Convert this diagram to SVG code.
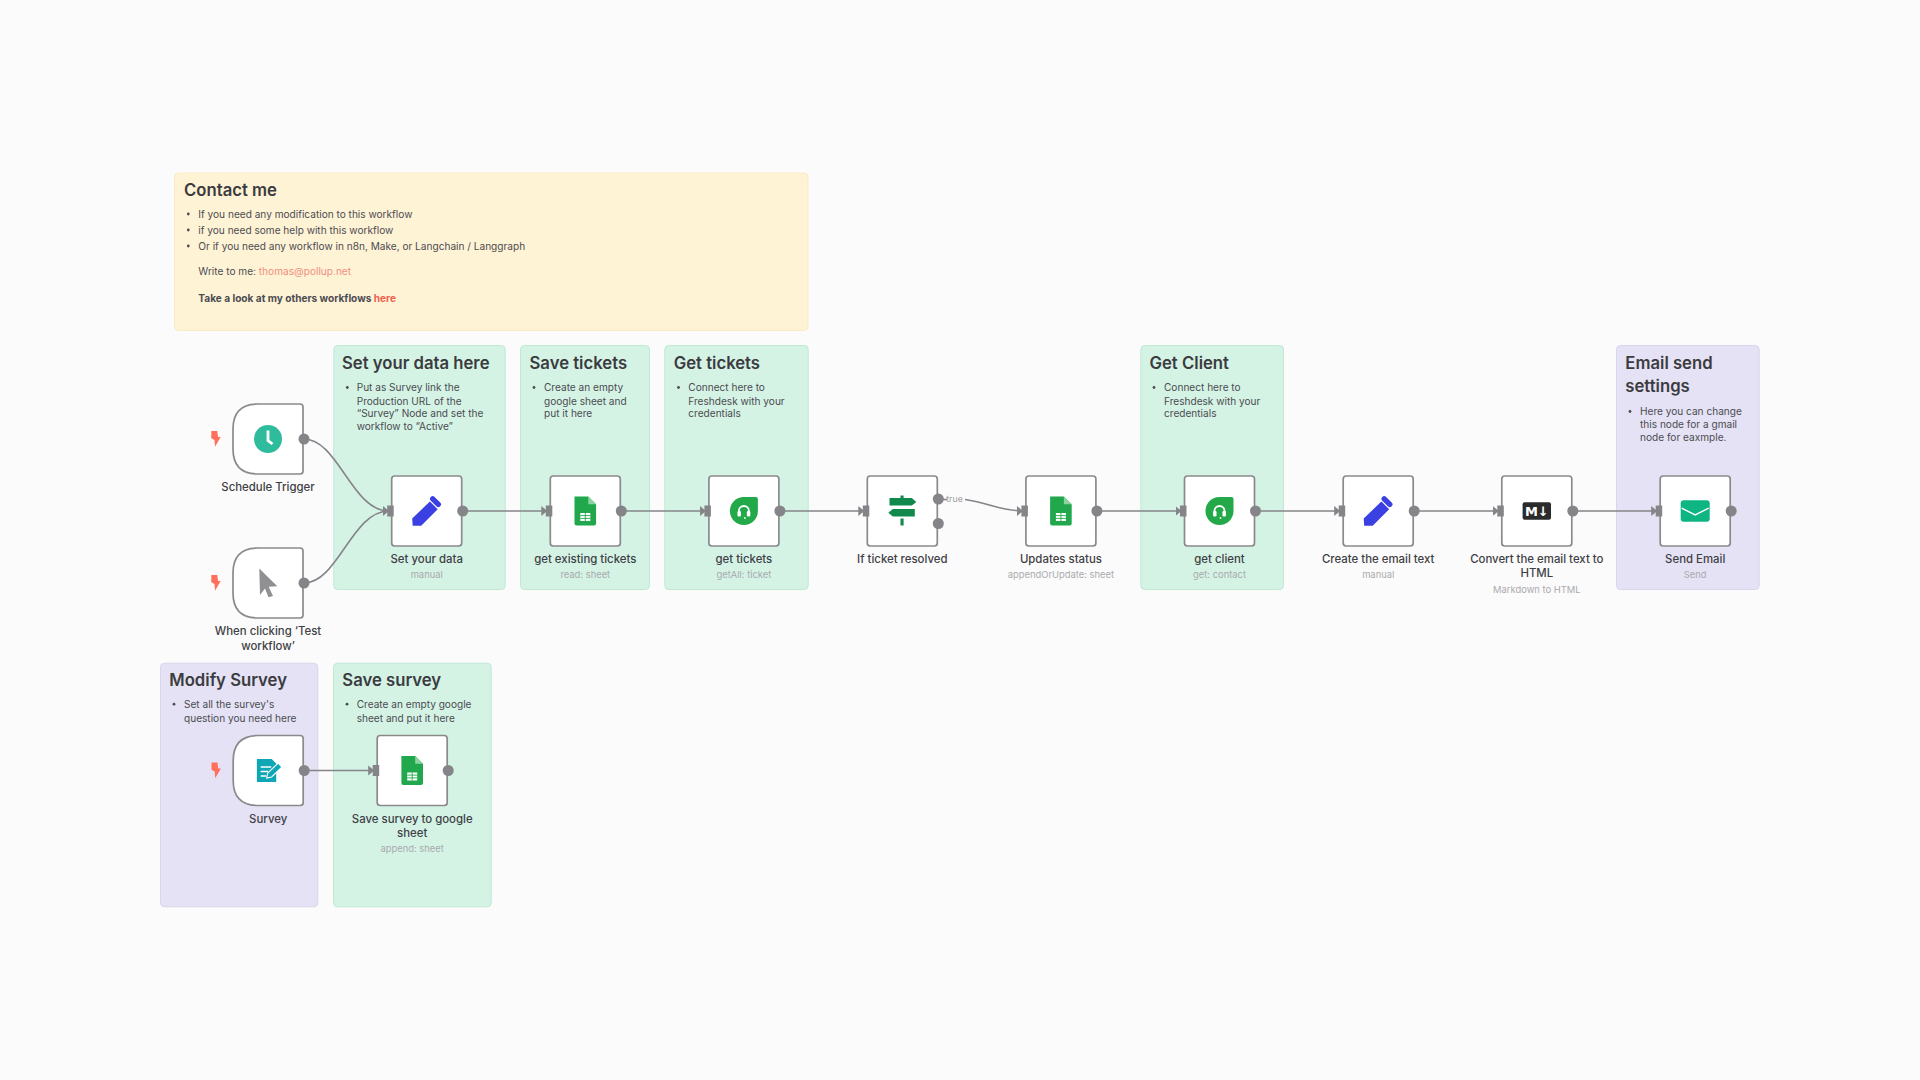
<svg xmlns="http://www.w3.org/2000/svg" width="1920" height="1080" viewBox="0 0 1920 1080">
<style>
text{font-family:Inter,"Noto Sans","Liberation Sans",sans-serif}
.st{stroke-width:1;}
.g{fill:#d4f3e5;stroke:#bfe9d5}
.p{fill:#e4e2f4;stroke:#d8d6ec}
.y{fill:#fff3d6;stroke:#fbeac4}
.t{font-size:16.7px;font-weight:600;fill:#3b3b40}
.b{font-size:10.1px;fill:#4c4c52}
.box{fill:#fff;stroke:#8a8a8d;stroke-width:1.7}
.out{fill:#858589}
.in{fill:#858589}
.lb{font-size:11.4px;font-weight:500;fill:#3f3f45;text-anchor:middle}
.sb{font-size:9.4px;fill:#aaaaae;text-anchor:middle}
.c{fill:none;stroke:#858589;stroke-width:1.6;marker-end:url(#ah)}
.bolt{fill:#ff6f5c}
</style>
<defs>
<marker id="ah" markerUnits="userSpaceOnUse" markerWidth="7" markerHeight="12" refX="6" refY="6" orient="auto"><path d="M0 1L6 6L0 11Z" fill="#858589"/></marker>
<g id="pencil"><path d="M-14.500 7.500L3.200-9.500L11-1.800L-5.500 14.700L-14 14.700Z" fill="#3b40e3"/><path d="M6-12.200L11.600-6.600" stroke="#3b40e3" stroke-width="5.400" stroke-linecap="round" fill="none"/></g>
<g id="sheet"><path d="M-10.800-14.500H3L10.800-6.700V12.500Q10.800 14.500 8.800 14.500H-8.800Q-10.800 14.500-10.800 12.500Z" fill="#21a84c"/><path d="M3-14.500L10.800-6.700H3Z" fill="#8ed3a2"/><path d="M-5 2H5V10H-5Z" fill="#fff"/><path d="M-5 4.600H5M-5 7.400H5M0 2V10" stroke="#21a84c" stroke-width=".9"/></g>
<g id="fresh"><path d="M0-14H12Q14-14 14-12V0A14 14 0 0 1-14 0A14 14 0 0 1 0-14Z" fill="#24a94a"/><path d="M-5 2.500V0A5 5 0 0 1 5 0V2.500" fill="none" stroke="#fff" stroke-width="1.800"/><rect x="-6.400" y="0" width="3.400" height="5.400" rx="1.200" fill="#fff"/><rect x="3" y="0" width="3.400" height="5.400" rx="1.200" fill="#fff"/><circle cx="1" cy="7" r=".9" fill="#fff"/></g>
<path id="bolt" class="bolt" d="M-56.700-8H-50.700L-50-2H-47.300L-53 7.700L-53.500 1L-56.700-.7Z"/>
<path id="trigger" class="box" d="M-10-35H32Q35-35 35-32V32Q35 35 32 35H-10Q-35 35-35 10V-10Q-35-35-10-35Z"/>
</defs>
<rect width="1920" height="1080" fill="#fbfbfb"/>

<g id="sticky-contact"><rect class="st y" x="174.500" y="173" width="633.500" height="157.500" rx="4"/>
<text class="t" x="184" y="196">Contact me</text>
<circle cx="188.300" cy="214" r="1.400" fill="#4c4c52"/><text class="b" x="198.300" y="217.500">If you need any modification to this workflow</text>
<circle cx="188.300" cy="230" r="1.400" fill="#4c4c52"/><text class="b" x="198.300" y="233.500">if you need some help with this workflow</text>
<circle cx="188.300" cy="246" r="1.400" fill="#4c4c52"/><text class="b" x="198.300" y="249.500">Or if you need any workflow in n8n, Make, or Langchain / Langgraph</text>
<text class="b" x="198.300" y="275">Write to me: <tspan fill="#ef8f82">thomas@pollup.net</tspan></text>
<text class="b" x="198.300" y="302" style="font-weight:700" fill="#3b3b40">Take a look at my others workflows <tspan fill="#ee5f4d">here</tspan></text></g>

<g id="sticky-set-data"><rect class="st g" x="333.800" y="345.500" width="171.400" height="244" rx="4"/>
<text class="t" x="342" y="368.500">Set your data here</text>
<circle cx="347.300" cy="387.500" r="1.400" fill="#4c4c52"/>
<text class="b" x="356.700" y="391">Put as Survey link the</text><text class="b" x="356.700" y="404.500">Production URL of the</text><text class="b" x="356.700" y="417">“Survey” Node and set the</text><text class="b" x="356.700" y="430">workflow to “Active”</text></g>

<g id="sticky-save-tickets"><rect class="st g" x="520.500" y="345.500" width="129" height="244" rx="4"/>
<text class="t" x="529.500" y="368.500">Save tickets</text>
<circle cx="534" cy="387.500" r="1.400" fill="#4c4c52"/>
<text class="b" x="544" y="391">Create an empty</text><text class="b" x="544" y="404.500">google sheet and</text><text class="b" x="544" y="417">put it here</text></g>

<g id="sticky-get-tickets"><rect class="st g" x="664.800" y="345.500" width="143.400" height="244" rx="4"/>
<text class="t" x="673.700" y="368.500">Get tickets</text>
<circle cx="678.500" cy="387.500" r="1.400" fill="#4c4c52"/>
<text class="b" x="688.300" y="391">Connect here to</text><text class="b" x="688.300" y="404.500">Freshdesk with your</text><text class="b" x="688.300" y="417">credentials</text></g>

<g id="sticky-get-client"><rect class="st g" x="1140.800" y="345.500" width="142.700" height="244" rx="4"/>
<text class="t" x="1149.500" y="368.500">Get Client</text>
<circle cx="1154" cy="387.500" r="1.400" fill="#4c4c52"/>
<text class="b" x="1164" y="391">Connect here to</text><text class="b" x="1164" y="404.500">Freshdesk with your</text><text class="b" x="1164" y="417">credentials</text></g>

<g id="sticky-email"><rect class="st p" x="1616.500" y="345.500" width="142.700" height="244" rx="4"/>
<text class="t" x="1625.300" y="369">Email send</text><text class="t" x="1625.300" y="391.800">settings</text>
<circle cx="1630" cy="411.500" r="1.400" fill="#4c4c52"/>
<text class="b" x="1640" y="415">Here you can change</text><text class="b" x="1640" y="428">this node for a gmail</text><text class="b" x="1640" y="440.700">node for eaxmple.</text></g>

<g id="sticky-modify"><rect class="st p" x="160.500" y="663.200" width="157.300" height="243.600" rx="4"/>
<text class="t" x="169.300" y="686">Modify Survey</text>
<circle cx="174" cy="704.200" r="1.400" fill="#4c4c52"/>
<text class="b" x="184" y="707.700">Set all the survey's</text><text class="b" x="184" y="721.700">question you need here</text></g>

<g id="sticky-save-survey"><rect class="st g" x="333.500" y="663.200" width="157.700" height="243.600" rx="4"/>
<text class="t" x="342.300" y="686">Save survey</text>
<circle cx="347" cy="704.200" r="1.400" fill="#4c4c52"/>
<text class="b" x="356.700" y="707.700">Create an empty google</text><text class="b" x="356.700" y="721.700">sheet and put it here</text></g>

<g id="connectors">
<path class="c" d="M304 439C338 439 352 511 388.700 511"/>
<path class="c" d="M304 583C338 583 352 511 388.700 511"/>
<path class="c" d="M463 511H547.300"/>
<path class="c" d="M621 511H705.900"/>
<path class="c" d="M780 511H864.300"/>
<path class="c" d="M965 499.500C990 503 1000 511 1022.900 511"/>
<path d="M939 499.500H947" stroke="#858589" stroke-width="1.600"/>
<path class="c" d="M1097 511H1181.500"/>
<path class="c" d="M1255 511H1340.200"/>
<path class="c" d="M1414 511H1498.800"/>
<path class="c" d="M1573 511H1657.200"/>
<path class="c" d="M304 770.500H374.200"/>
</g>
<text id="label-true" x="954.500" y="502.300" text-anchor="middle" font-size="8.800" fill="#a0a0a4">true</text>

<g id="node-schedule" transform="translate(268,439)">
<use href="#bolt"/><use href="#trigger"/>
<circle cx="0" cy="0" r="14" fill="#2fbc9c"/><path d="M0-8.500V1.500L4.500 5" stroke="#fff" stroke-width="2.800" fill="none"/>
<circle class="out" cx="36" cy="0" r="5.500"/>
<text class="lb" y="51.700">Schedule Trigger</text></g>

<g id="node-test" transform="translate(268,583)">
<use href="#bolt"/><use href="#trigger"/>
<path d="M-8.700-14.500L9.300 3.300L0.700 3.800L5 13L0.500 14.300L-3 5.500L-8 12Z" fill="#8f8f94"/>
<circle class="out" cx="36" cy="0" r="5.500"/>
<text class="lb" y="52">When clicking ‘Test</text><text class="lb" y="67">workflow’</text></g>

<g id="node-set-data" transform="translate(426.700,511)">
<rect class="box" x="-35" y="-35" width="70" height="70" rx="3"/><rect class="in" x="-39.500" y="-5.500" width="6.500" height="11"/>
<use href="#pencil"/><circle class="out" cx="36" cy="0" r="5.500"/>
<text class="lb" y="51.700">Set your data</text><text class="sb" y="67">manual</text></g>

<g id="node-existing" transform="translate(585.300,511)">
<rect class="box" x="-35" y="-35" width="70" height="70" rx="3"/><rect class="in" x="-39.500" y="-5.500" width="6.500" height="11"/>
<use href="#sheet"/><circle class="out" cx="36" cy="0" r="5.500"/>
<text class="lb" y="51.700">get existing tickets</text><text class="sb" y="67">read: sheet</text></g>

<g id="node-get-tickets" transform="translate(743.900,511)">
<rect class="box" x="-35" y="-35" width="70" height="70" rx="3"/><rect class="in" x="-39.500" y="-5.500" width="6.500" height="11"/>
<use href="#fresh"/><circle class="out" cx="36" cy="0" r="5.500"/>
<text class="lb" y="51.700">get tickets</text><text class="sb" y="67">getAll: ticket</text></g>

<g id="node-if" transform="translate(902.300,511)">
<rect class="box" x="-35" y="-35" width="70" height="70" rx="3"/><rect class="in" x="-39.500" y="-5.500" width="6.500" height="11"/>
<path d="M-12.800-13H9.500L14-9L9.500-5.500H-12.800Z M-9.500-2H12.500V5.500H-9.500L-14 1.800Z M-1.800-15.500H1.300V-13H-1.800Z M-1.800 7.500H1.300V14.500H-1.800Z" fill="#12894c"/>
<circle class="out" cx="36" cy="-12" r="5.500"/><circle class="out" cx="36" cy="12.500" r="5.500"/>
<text class="lb" y="51.700">If ticket resolved</text></g>

<g id="node-updates" transform="translate(1060.900,511)">
<rect class="box" x="-35" y="-35" width="70" height="70" rx="3"/><rect class="in" x="-39.500" y="-5.500" width="6.500" height="11"/>
<use href="#sheet"/><circle class="out" cx="36" cy="0" r="5.500"/>
<text class="lb" y="51.700">Updates status</text><text class="sb" y="67">appendOrUpdate: sheet</text></g>

<g id="node-get-client" transform="translate(1219.500,511)">
<rect class="box" x="-35" y="-35" width="70" height="70" rx="3"/><rect class="in" x="-39.500" y="-5.500" width="6.500" height="11"/>
<use href="#fresh"/><circle class="out" cx="36" cy="0" r="5.500"/>
<text class="lb" y="51.700">get client</text><text class="sb" y="67">get: contact</text></g>

<g id="node-create-text" transform="translate(1378.200,511)">
<rect class="box" x="-35" y="-35" width="70" height="70" rx="3"/><rect class="in" x="-39.500" y="-5.500" width="6.500" height="11"/>
<use href="#pencil"/><circle class="out" cx="36" cy="0" r="5.500"/>
<text class="lb" y="51.700">Create the email text</text><text class="sb" y="67">manual</text></g>

<g id="node-markdown" transform="translate(1536.800,511)">
<rect class="box" x="-35" y="-35" width="70" height="70" rx="3"/><rect class="in" x="-39.500" y="-5.500" width="6.500" height="11"/>
<rect x="-14.200" y="-8.700" width="28.400" height="17.400" rx="2" fill="#2b2b2d"/>
<text x="0" y="4.600" text-anchor="middle" font-size="13" font-weight="700" fill="#fff" style="font-family:'DejaVu Sans',sans-serif">M↓</text>
<circle class="out" cx="36" cy="0" r="5.500"/>
<text class="lb" y="51.700">Convert the email text to</text><text class="lb" y="65.700">HTML</text><text class="sb" y="81.700">Markdown to HTML</text></g>

<g id="node-send" transform="translate(1695.200,511)">
<rect class="box" x="-35" y="-35" width="70" height="70" rx="3"/><rect class="in" x="-39.500" y="-5.500" width="6.500" height="11"/>
<rect x="-14.500" y="-10.800" width="29" height="21.600" rx="3" fill="#0db583"/><path d="M-13.500-2.800L0 4L13.500-2.800" fill="none" stroke="#fff" stroke-width="1.500"/>
<circle class="out" cx="36" cy="0" r="5.500"/>
<text class="lb" y="51.700">Send Email</text><text class="sb" y="67">Send</text></g>

<g id="node-survey" transform="translate(268.200,770.500)">
<use href="#bolt"/><use href="#trigger"/>
<path d="M-11.300-11.500H3.500L8-7V11.500H-11.300Z" fill="#0fa6b5"/><path d="M-7.500-3.500H3M-7.500 1H0M-7.500 5.500H-2" stroke="#fff" stroke-width="1.300"/><path d="M-1.500 7.500L-0.500 2.500L10-7.500L13.800-3.500L3.500 6.500Z" fill="#0fa6b5" stroke="#fff" stroke-width="1.100"/>
<circle class="out" cx="36" cy="0" r="5.500"/>
<text class="lb" y="52.200">Survey</text></g>

<g id="node-save-survey" transform="translate(412.200,770.500)">
<rect class="box" x="-35" y="-35" width="70" height="70" rx="3"/><rect class="in" x="-39.500" y="-5.500" width="6.500" height="11"/>
<use href="#sheet"/><circle class="out" cx="36" cy="0" r="5.500"/>
<text class="lb" y="52.200">Save survey to google</text><text class="lb" y="66.200">sheet</text><text class="sb" y="81.200">append: sheet</text></g>
</svg>
